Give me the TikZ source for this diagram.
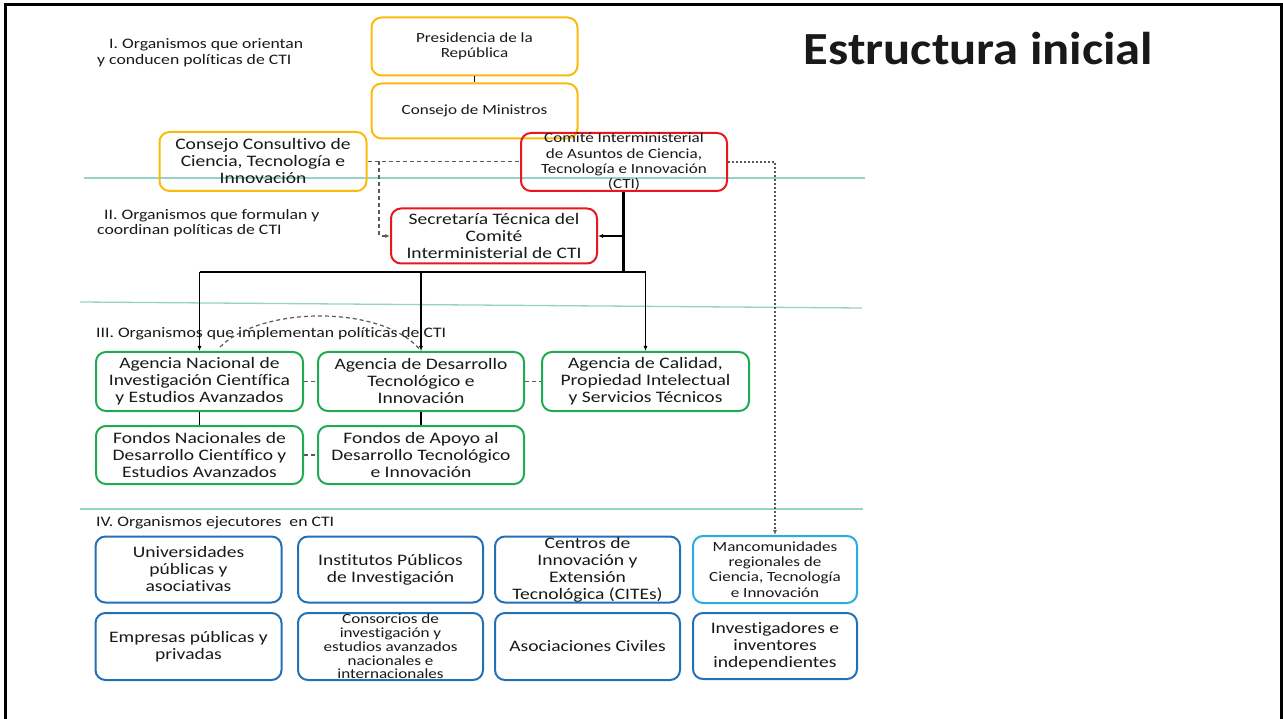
\documentclass[tikz,border=0pt]{standalone}
\usepackage{fontspec}
\setmainfont{Carlito}[FakeStretch=1.22, Ligatures=NoCommon]
\newfontfamily\titlefont{Carlito}[FakeStretch=1.1, Ligatures=NoCommon]
\usetikzlibrary{arrows.meta}
\definecolor{cyel}{RGB}{250,188,10}
\definecolor{cred}{RGB}{232,22,30}
\definecolor{cgrn}{RGB}{32,170,82}
\definecolor{cblu}{RGB}{36,112,180}
\definecolor{clbl}{RGB}{40,172,226}
\definecolor{cteal}{RGB}{150,210,200}
\definecolor{ctxt}{RGB}{25,25,25}
\definecolor{cdash}{RGB}{90,90,90}
\begin{document}
\begin{tikzpicture}[x=1pt,y=-1pt,
  bx/.style={draw, rounded corners=10pt, line width=2pt, inner sep=0pt, align=center, text=ctxt},
  fA/.style={font=\fontsize{16}{17}\selectfont},
  fB/.style={font=\fontsize{14}{15.3}\selectfont},
  fC/.style={font=\fontsize{14}{13.8}\selectfont},
  lab/.style={anchor=west, inner sep=0pt, text=ctxt, font=\fontsize{14.5}{15}\selectfont},
  sep/.style={draw=cteal, line width=1.3pt},
  conn/.style={line width=1.6pt, black},
  dsh/.style={line width=1.2pt, cdash, dash pattern=on 4pt off 3pt},
  dot/.style={line width=1.4pt, cdash, dash pattern=on 2pt off 2pt},
  tip/.style={-{Latex[length=5pt,width=4pt]}}
]
\useasboundingbox (0,0) rectangle (1283,719);
\fill[white] (0,0) rectangle (1283,719);
% frame
\draw[line width=3pt] (5.5,760) -- (5.5,4.5) -- (1281.5,4.5) -- (1281.5,760);
% separators
\draw[sep] (84,178) -- (865,178);
\draw[sep] (80,302) -- (862,308);
\draw[sep] (80,509) -- (863,509);
% title
\node[anchor=base, inner sep=0pt, text=ctxt, font=\titlefont\bfseries\fontsize{46}{50}\selectfont] (title) at (978.5,65) {Estructura inicial};
% labels
\node[lab] (l1a) at (109,45) {I. Organismos que orientan};
\node[lab] (l1b) at (97,61) {y conducen políticas de CTI};
\node[lab] (l2a) at (104,216) {II. Organismos que formulan y};
\node[lab] (l2b) at (97,231) {coordinan políticas de CTI};
\node[lab] (l3) at (96,334) {III. Organismos que implementan políticas de CTI};
\node[lab] (l4) at (96,523) {IV. Organismos ejecutores\ \ en CTI};
% level I
\node[bx, draw=cyel, fB, minimum width=206pt, minimum height=58pt] (pres) at (474.5,46.5) {Presidencia de la\\República};
\node[bx, draw=cyel, fB, minimum width=206pt, minimum height=55pt] (minis) at (474.5,111) {Consejo de Ministros};
\node[bx, draw=cyel, fA, minimum width=207pt, minimum height=59pt] (consul) at (263,161.5) {Consejo Consultivo de\\Ciencia, Tecnología e\\Innovación};
\node[bx, draw=cred, fB, minimum width=206pt, minimum height=58pt] (comite) at (624,162) {Comité Interministerial\\de Asuntos de Ciencia,\\Tecnología e Innovación\\(CTI)};
% level II
\node[bx, draw=cred, fA, minimum width=206pt, minimum height=55pt] (secre) at (494,236) {Secretaría Técnica del\\Comité\\Interministerial de CTI};
% level III
\node[bx, draw=cgrn, fA, minimum width=207pt, minimum height=59pt] (an) at (199.5,381.5) {Agencia Nacional de\\Investigación Científica\\y Estudios Avanzados};
\node[bx, draw=cgrn, fA, minimum width=206pt, minimum height=59pt] (ad) at (421,381.5) {Agencia de Desarrollo\\Tecnológico e\\Innovación};
\node[bx, draw=cgrn, fA, minimum width=207pt, minimum height=59pt] (ac) at (645.5,381.5) {Agencia de Calidad,\\Propiedad Intelectual\\y Servicios Técnicos};
\node[bx, draw=cgrn, fA, minimum width=207pt, minimum height=58pt] (fn) at (199.5,455) {Fondos Nacionales de\\Desarrollo Científico y\\Estudios Avanzados};
\node[bx, draw=cgrn, fA, minimum width=206pt, minimum height=58pt] (fa) at (421,455) {Fondos de Apoyo al\\Desarrollo Tecnológico\\e Innovación};
% level IV
\node[bx, draw=cblu, fA, minimum width=186pt, minimum height=66pt] (univ) at (188.5,569.5) {Universidades\\públicas y\\asociativas};
\node[bx, draw=cblu, fA, minimum width=185pt, minimum height=66pt] (inst) at (390.5,569.5) {Institutos Públicos\\de Investigación};
\node[bx, draw=cblu, fA, minimum width=185pt, minimum height=66pt] (cent) at (587.5,569.5) {Centros de\\Innovación y\\Extensión\\Tecnológica (CITEs)};
\node[bx, draw=clbl, fB, minimum width=164pt, minimum height=67pt] (manc) at (775,569.5) {Mancomunidades\\regionales de\\Ciencia, Tecnología\\e Innovación};
\node[bx, draw=cblu, fA, minimum width=186pt, minimum height=67pt] (empr) at (188.5,646.5) {Empresas públicas y\\privadas};
\node[bx, draw=cblu, fC, minimum width=185pt, minimum height=67pt] (cons) at (390.5,646.5) {Consorcios de\\investigación y\\estudios avanzados\\nacionales e\\internacionales};
\node[bx, draw=cblu, fA, minimum width=185pt, minimum height=67pt] (asoc) at (587.5,646.5) {Asociaciones Civiles};
\node[bx, draw=cblu, fA, minimum width=164pt, minimum height=66pt] (inve) at (775,646) {Investigadores e\\inventores\\independientes};
% connectors level I
\draw[conn] (pres.south) -- (minis.north);
\coordinate (dk) at (379,161.5);
\draw[dsh] (consul.east) -- (consul.east -| comite.west);
\draw[dsh, tip] (dk) |- (secre.west);
\draw[dot, tip] (comite.east) -| (manc.north);
% CTI trunk
\coordinate (hb) at (623.5,272);
\draw[line width=2.2pt] (comite.south -| hb) -- (hb);
\draw[conn, tip] (secre.east -| hb) -- (secre.east);
\draw[conn] (an.north |- hb) -- (ac.north |- hb);
\draw[conn, tip] (an.north |- hb) -- (an.north);
\draw[conn, tip] (ad.north |- hb) -- (ad.north);
\draw[conn, tip] (ac.north |- hb) -- (ac.north);
% level III links
\draw[conn] (an.south) -- (fn.north);
\draw[conn] (ad.south) -- (fa.north);
\draw[dsh] (an.east) -- (ad.west);
\draw[dsh] (ad.east) -- (ac.west);
\draw[dsh] (fn.east) -- (fa.west);
\coordinate (arcA) at (220,347);
\draw[dsh] (arcA) .. controls (262,305) and (385,305) .. (ad.north);
\end{tikzpicture}
\end{document}
